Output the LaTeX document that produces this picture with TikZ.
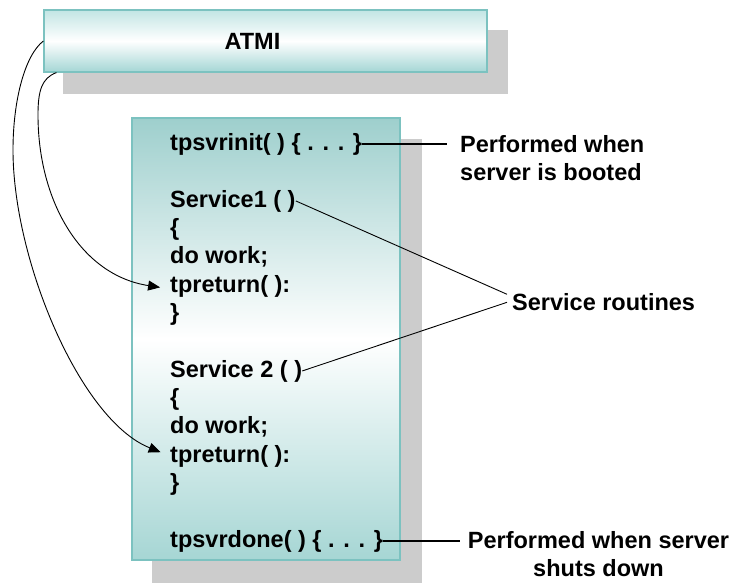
\documentclass[tikz,border=0pt]{standalone}
\usepackage{fontspec}
\setmainfont{Liberation Sans}
\usetikzlibrary{arrows.meta,calc,backgrounds}
\definecolor{tealedge}{HTML}{7CC2C0}
\definecolor{tealtop}{HTML}{9ECFCD}
\definecolor{tealbot}{HTML}{A6D6D4}
\definecolor{atmitop}{HTML}{C2E5E4}
\definecolor{atmibot}{HTML}{A4D6D5}
\definecolor{shadowgray}{HTML}{CCCCCC}
\begin{document}
\begin{tikzpicture}[x=1pt,y=-1pt,
  lbl/.style={font=\bfseries\fontsize{23.5}{28}\selectfont, inner sep=0pt},
  code/.style={lbl, anchor=base west},
  hconn/.style={line width=1.5pt, black},
  dconn/.style={line width=0.9pt, black},
  call/.style={line width=0.9pt, -{Triangle[length=12pt,width=10pt]}, shorten >=10pt},
  panel/.style={draw=tealedge, line width=1.2pt, inner sep=0pt, shading=axis},
  boxshadow/.style={fill=shadowgray}
]
\useasboundingbox (0,0) rectangle (737,586);

% main server box
\node[panel, minimum width=268pt, minimum height=442pt,
      top color=tealtop, bottom color=tealbot, middle color=white]
      (srv) at (266,339) {};

% ATMI box
\node[panel, minimum width=443pt, minimum height=62pt,
      top color=atmitop, bottom color=atmibot, middle color=white,
      font=\bfseries\fontsize{23.5}{28}\selectfont]
      (atmi) at (265.5,41) {ATMI\hspace*{26pt}};

% shadows
\begin{scope}[on background layer]
  \fill[boxshadow] ($(srv.north west)+(21,22)$) rectangle ($(srv.south east)+(21,22)$);
  \fill[boxshadow] ($(atmi.north west)+(20,21)$) rectangle ($(atmi.south east)+(20,21)$);
\end{scope}

% code lines
\node[code] (init) at (170,150) {tpsvrinit( ) \{ . . . \}};
\node[code] (s1)   at (170,207) {Service1 ( )};
\node[code] (ob1)  at (170,235.5) {\{};
\node[code] (w1)   at (170,263.5) {do work;};
\node[code] (ret1) at (170,292) {tpreturn( ):};
\node[code] (cb1)  at (170,320) {\}};
\node[code] (s2)   at (170,377) {Service 2 ( )};
\node[code] (ob2)  at (170,405) {\{};
\node[code] (w2)   at (170,433.5) {do work;};
\node[code] (ret2) at (170,462) {tpreturn( ):};
\node[code] (cb2)  at (170,490) {\}};
\node[code] (done) at (170,547) {tpsvrdone( ) \{ . . . \}};

% right-hand labels
\node[lbl, anchor=base west, align=left, inner xsep=13pt] (boot) at (447,180)
  {Performed when\\server is booted};
\node[lbl, anchor=base west, inner xsep=5pt] (routines) at (507,310.7) {Service routines};
\node[lbl, anchor=base, align=center, inner xsep=8pt] (shut) at (598.5,576)
  {Performed when server\\shuts down};

% connectors
\draw[hconn] (init.east) -- (init.east -| boot.west);
\draw[dconn] (s1.east) -- ($(routines.west)+(0,-8)$);
\draw[dconn] (s2.east) -- ($(routines.west)+(0,0)$);
\draw[hconn] (done.east) -- (done.east -| shut.west);

% calls from ATMI
\draw[call] ($(atmi.south west)+(13,0)$) .. controls (42,78) and (38,90) .. (38,115)
  .. controls (38,200) and (80,275) .. ($(ret1.west)+(0,3)$);
\draw[call] (atmi.west) .. controls (25,55) and (13,100) .. (13,150)
  .. controls (13,260) and (80,420) .. (ret2.west);
\end{tikzpicture}
\end{document}
